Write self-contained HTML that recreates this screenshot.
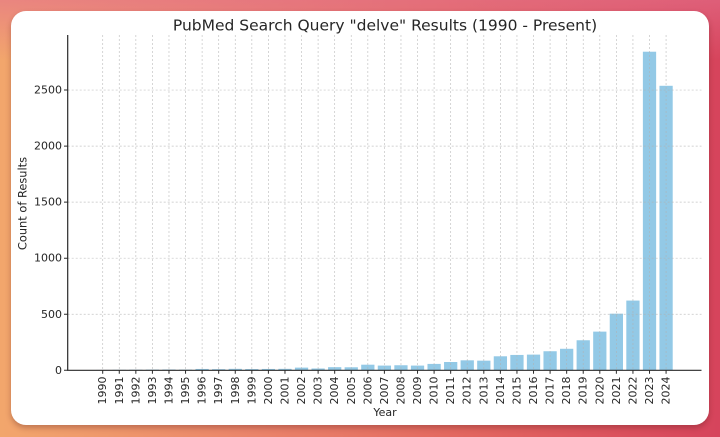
<!DOCTYPE html>
<html>
<head>
<meta charset="utf-8">
<style>
  html, body { margin:0; padding:0; }
  body {
    width:720px; height:437px; overflow:hidden; position:relative;
    background:
      linear-gradient(to bottom, rgba(228,112,140,0.6) 0px, rgba(228,112,140,0) 60px),
      linear-gradient(to right, #f2a66c 0%, #ea846a 35%, #e2665f 65%, #d6445c 100%);
  }
  .card {
    position:absolute; left:11px; top:11px; width:698px; height:414px;
    background:#fff; border-radius:15px;
    box-shadow:0 3px 6px rgba(80,20,20,0.3);
  }
  svg { position:absolute; left:0; top:0; }
  text { font-family:"DejaVu Sans","Liberation Sans",sans-serif; fill:#262626; }
</style>
</head>
<body>
<div class="card"></div>
<svg width="720" height="437" viewBox="0 0 720 437" xmlns="http://www.w3.org/2000/svg">
  <!-- bars -->
  <g transform="translate(102.7,370.3) scale(16.57,-0.1121)" fill="#93c9e6">
    <rect x="-0.4" y="0" width="0.8" height="3"/>
    <rect x="0.6" y="0" width="0.8" height="4"/>
    <rect x="1.6" y="0" width="0.8" height="5"/>
    <rect x="2.6" y="0" width="0.8" height="6"/>
    <rect x="3.6" y="0" width="0.8" height="7"/>
    <rect x="4.6" y="0" width="0.8" height="6"/>
    <rect x="5.6" y="0" width="0.8" height="12"/>
    <rect x="6.6" y="0" width="0.8" height="10"/>
    <rect x="7.6" y="0" width="0.8" height="13"/>
    <rect x="8.6" y="0" width="0.8" height="11"/>
    <rect x="9.6" y="0" width="0.8" height="12"/>
    <rect x="10.6" y="0" width="0.8" height="13"/>
    <rect x="11.6" y="0" width="0.8" height="24"/>
    <rect x="12.6" y="0" width="0.8" height="16"/>
    <rect x="13.6" y="0" width="0.8" height="28"/>
    <rect x="14.6" y="0" width="0.8" height="27"/>
    <rect x="15.6" y="0" width="0.8" height="50"/>
    <rect x="16.6" y="0" width="0.8" height="42"/>
    <rect x="17.6" y="0" width="0.8" height="45"/>
    <rect x="18.6" y="0" width="0.8" height="42"/>
    <rect x="19.6" y="0" width="0.8" height="57"/>
    <rect x="20.6" y="0" width="0.8" height="74"/>
    <rect x="21.6" y="0" width="0.8" height="89"/>
    <rect x="22.6" y="0" width="0.8" height="86"/>
    <rect x="23.6" y="0" width="0.8" height="125"/>
    <rect x="24.6" y="0" width="0.8" height="137"/>
    <rect x="25.6" y="0" width="0.8" height="140"/>
    <rect x="26.6" y="0" width="0.8" height="170"/>
    <rect x="27.6" y="0" width="0.8" height="192"/>
    <rect x="28.6" y="0" width="0.8" height="268"/>
    <rect x="29.6" y="0" width="0.8" height="345"/>
    <rect x="30.6" y="0" width="0.8" height="505"/>
    <rect x="31.6" y="0" width="0.8" height="622"/>
    <rect x="32.6" y="0" width="0.8" height="2842"/>
    <rect x="33.6" y="0" width="0.8" height="2538"/>
  </g>

  <!-- grid -->
  <path fill="none" stroke="#b0b0b0" stroke-opacity="0.75" stroke-width="0.7" stroke-dasharray="2,2"
    d="M102.7 35V370.3 M119.27 35V370.3 M135.84 35V370.3 M152.41 35V370.3 M168.98 35V370.3
       M185.55 35V370.3 M202.12 35V370.3 M218.69 35V370.3 M235.26 35V370.3 M251.83 35V370.3
       M268.4 35V370.3 M284.97 35V370.3 M301.54 35V370.3 M318.11 35V370.3 M334.68 35V370.3
       M351.25 35V370.3 M367.82 35V370.3 M384.39 35V370.3 M400.96 35V370.3 M417.53 35V370.3
       M434.1 35V370.3 M450.67 35V370.3 M467.24 35V370.3 M483.81 35V370.3 M500.38 35V370.3
       M516.95 35V370.3 M533.52 35V370.3 M550.09 35V370.3 M566.66 35V370.3 M583.23 35V370.3
       M599.8 35V370.3 M616.37 35V370.3 M632.94 35V370.3 M649.51 35V370.3 M666.08 35V370.3
       M67.7 314.25H701.5 M67.7 258.2H701.5 M67.7 202.15H701.5 M67.7 146.1H701.5 M67.7 90.05H701.5"/>

  <!-- spines -->
  <path fill="none" stroke="#2a2a2a" stroke-width="1.2" d="M67.7 35V370.3H701.5"/>

  <!-- ticks -->
  <path fill="none" stroke="#2a2a2a" stroke-width="1"
    d="M64 370.3H67.7 M64 314.25H67.7 M64 258.2H67.7 M64 202.15H67.7 M64 146.1H67.7 M64 90.05H67.7
       M102.7 370.3v3.5 M119.27 370.3v3.5 M135.84 370.3v3.5 M152.41 370.3v3.5 M168.98 370.3v3.5
       M185.55 370.3v3.5 M202.12 370.3v3.5 M218.69 370.3v3.5 M235.26 370.3v3.5 M251.83 370.3v3.5
       M268.4 370.3v3.5 M284.97 370.3v3.5 M301.54 370.3v3.5 M318.11 370.3v3.5 M334.68 370.3v3.5
       M351.25 370.3v3.5 M367.82 370.3v3.5 M384.39 370.3v3.5 M400.96 370.3v3.5 M417.53 370.3v3.5
       M434.1 370.3v3.5 M450.67 370.3v3.5 M467.24 370.3v3.5 M483.81 370.3v3.5 M500.38 370.3v3.5
       M516.95 370.3v3.5 M533.52 370.3v3.5 M550.09 370.3v3.5 M566.66 370.3v3.5 M583.23 370.3v3.5
       M599.8 370.3v3.5 M616.37 370.3v3.5 M632.94 370.3v3.5 M649.51 370.3v3.5 M666.08 370.3v3.5"/>

  <!-- title -->
  <text x="385" y="30.5" text-anchor="middle" font-size="15.5">PubMed Search Query "delve" Results (1990 - Present)</text>

  <!-- y tick labels -->
  <g font-size="11" text-anchor="end" dominant-baseline="central">
    <text x="62" y="370.3">0</text>
    <text x="62" y="314.25">500</text>
    <text x="62" y="258.2">1000</text>
    <text x="62" y="202.15">1500</text>
    <text x="62" y="146.1">2000</text>
    <text x="62" y="90.05">2500</text>
  </g>

  <!-- y label -->
  <text transform="translate(22.7,203.5) rotate(-90)" text-anchor="middle" dominant-baseline="central" font-size="11.4">Count of Results</text>

  <!-- x tick labels -->
  <g font-size="11" text-anchor="end" dominant-baseline="central">
    <text transform="translate(102.7,376.5) rotate(-90)">1990</text>
    <text transform="translate(119.27,376.5) rotate(-90)">1991</text>
    <text transform="translate(135.84,376.5) rotate(-90)">1992</text>
    <text transform="translate(152.41,376.5) rotate(-90)">1993</text>
    <text transform="translate(168.98,376.5) rotate(-90)">1994</text>
    <text transform="translate(185.55,376.5) rotate(-90)">1995</text>
    <text transform="translate(202.12,376.5) rotate(-90)">1996</text>
    <text transform="translate(218.69,376.5) rotate(-90)">1997</text>
    <text transform="translate(235.26,376.5) rotate(-90)">1998</text>
    <text transform="translate(251.83,376.5) rotate(-90)">1999</text>
    <text transform="translate(268.4,376.5) rotate(-90)">2000</text>
    <text transform="translate(284.97,376.5) rotate(-90)">2001</text>
    <text transform="translate(301.54,376.5) rotate(-90)">2002</text>
    <text transform="translate(318.11,376.5) rotate(-90)">2003</text>
    <text transform="translate(334.68,376.5) rotate(-90)">2004</text>
    <text transform="translate(351.25,376.5) rotate(-90)">2005</text>
    <text transform="translate(367.82,376.5) rotate(-90)">2006</text>
    <text transform="translate(384.39,376.5) rotate(-90)">2007</text>
    <text transform="translate(400.96,376.5) rotate(-90)">2008</text>
    <text transform="translate(417.53,376.5) rotate(-90)">2009</text>
    <text transform="translate(434.1,376.5) rotate(-90)">2010</text>
    <text transform="translate(450.67,376.5) rotate(-90)">2011</text>
    <text transform="translate(467.24,376.5) rotate(-90)">2012</text>
    <text transform="translate(483.81,376.5) rotate(-90)">2013</text>
    <text transform="translate(500.38,376.5) rotate(-90)">2014</text>
    <text transform="translate(516.95,376.5) rotate(-90)">2015</text>
    <text transform="translate(533.52,376.5) rotate(-90)">2016</text>
    <text transform="translate(550.09,376.5) rotate(-90)">2017</text>
    <text transform="translate(566.66,376.5) rotate(-90)">2018</text>
    <text transform="translate(583.23,376.5) rotate(-90)">2019</text>
    <text transform="translate(599.8,376.5) rotate(-90)">2020</text>
    <text transform="translate(616.37,376.5) rotate(-90)">2021</text>
    <text transform="translate(632.94,376.5) rotate(-90)">2022</text>
    <text transform="translate(649.51,376.5) rotate(-90)">2023</text>
    <text transform="translate(666.08,376.5) rotate(-90)">2024</text>
  </g>

  <!-- x label -->
  <text x="385" y="416" text-anchor="middle" font-size="11">Year</text>
</svg>
</body>
</html>
